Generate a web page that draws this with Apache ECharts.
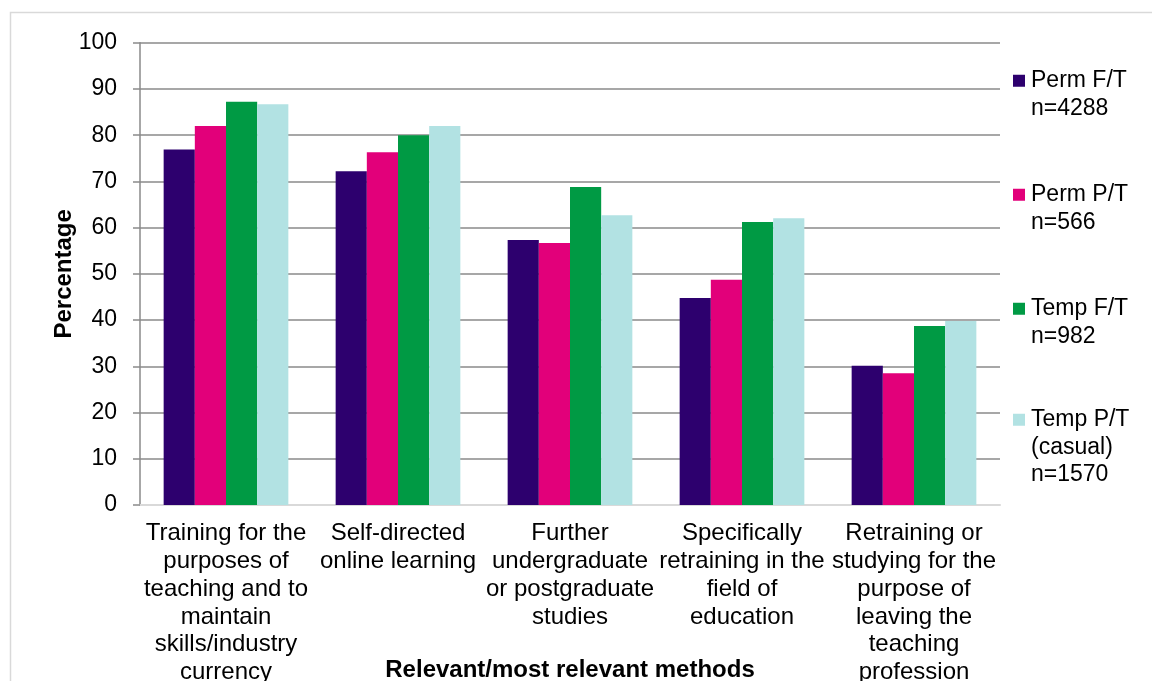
<!DOCTYPE html>
<html>
<head>
<meta charset="utf-8">
<script src="https://cdn.jsdelivr.net/npm/echarts@6/dist/echarts.min.js"></script>
<style>
  html, body { margin: 0; padding: 0; background: #fff; }
  #chart { width: 1152px; height: 681px; }
</style>
</head>
<body>
<div id="chart"></div>
<script>
// Relevant / most relevant professional development methods, by employment type
const categories = [
  'Training for the\npurposes of\nteaching and to\nmaintain\nskills/industry\ncurrency',
  'Self-directed\nonline learning',
  'Further\nundergraduate\nor postgraduate\nstudies',
  'Specifically\nretraining in the\nfield of\neducation',
  'Retraining or\nstudying for the\npurpose of\nleaving the\nteaching\nprofession'
];

const seriesNames = [
  'Perm F/T\nn=4288',
  'Perm P/T\nn=566',
  'Temp F/T\nn=982',
  'Temp P/T\n(casual)\nn=1570'
];

const permFT = [76.9, 72.2, 57.3, 44.8, 30.1];
const permPT = [82.0, 76.3, 56.7, 48.7, 28.5];
const tempFT = [87.2, 80.0, 68.8, 61.2, 38.7];
const tempPT = [86.7, 82.0, 62.7, 62.0, 39.8];

const seriesValues = [permFT, permPT, tempFT, tempPT];
const seriesColors = ['#2d006e', '#e2007a', '#009a44', '#b2e2e3'];

const yTicks = { min: 0, max: 100, interval: 10 };

const FONT = "'Liberation Sans', Arial, sans-serif";
const AXIS_GREY = '#8a8a8a';

// One legend per entry so every swatch sits beside the first line of its label
const legendTops = [39.5, 153.5, 267.5, 351];
const legends = seriesNames.map((name, i) => {
  const lines = name.split('\n').length;
  return {
    data: [name],
    orient: 'vertical',
    left: 1013,
    top: legendTops[i],
    padding: 0,
    itemWidth: 12,
    itemHeight: 12,
    itemGap: 0,
    icon: 'rect',
    selectedMode: false,
    formatter: n => '\n'.repeat(lines - 1) + n,
    textStyle: {
      fontFamily: FONT,
      fontSize: 23,
      lineHeight: 27.5,
      color: '#000',
      padding: [0, 0, 0, 1]
    }
  };
});

const chart = echarts.init(document.getElementById('chart'), null, { renderer: 'canvas' });

chart.setOption({
  animation: false,
  backgroundColor: '#fff',
  textStyle: { fontFamily: FONT },
  graphic: [{
    type: 'rect',
    shape: { x: 10.5, y: 12.5, width: 1400, height: 1000 },
    style: { fill: 'none', stroke: '#d9d9d9', lineWidth: 1.5 },
    silent: true,
    z: -10
  }],
  grid: { left: 140, right: 152, top: 42.7, bottom: 176, outerBoundsMode: 'none', containLabel: false },
  legend: legends,
  xAxis: {
    type: 'category',
    data: categories,
    name: 'Relevant/most relevant methods',
    nameLocation: 'middle',
    nameGap: 153,
    nameMoveOverlap: false,
    nameTextStyle: { fontFamily: FONT, fontSize: 24, fontWeight: 'bold', color: '#000' },
    axisLine: { show: true, lineStyle: { color: '#d9d9d9', width: 2 } },
    axisTick: { show: false },
    axisLabel: {
      interval: 0,
      margin: 15,
      fontFamily: FONT,
      fontSize: 24,
      lineHeight: 27.7,
      color: '#000',
      align: 'center'
    },
    splitLine: { show: false }
  },
  yAxis: {
    type: 'value',
    min: yTicks.min,
    max: yTicks.max,
    interval: yTicks.interval,
    name: 'Percentage',
    nameLocation: 'middle',
    nameGap: 64,
    nameMoveOverlap: false,
    nameTextStyle: { fontFamily: FONT, fontSize: 24, fontWeight: 'bold', color: '#000' },
    axisLine: { show: true, lineStyle: { color: AXIS_GREY, width: 1.5 } },
    axisTick: { show: true, length: 7, lineStyle: { color: AXIS_GREY, width: 1.5 } },
    axisLabel: { margin: 23, fontFamily: FONT, fontSize: 23, color: '#000' },
    splitLine: { show: true, lineStyle: { color: AXIS_GREY, width: 1.5 } }
  },
  series: seriesNames.map((name, i) => ({
    name: name,
    type: 'bar',
    data: seriesValues[i],
    barGap: '0%',
    barCategoryGap: '27.5%',
    itemStyle: { color: seriesColors[i] }
  }))
});
</script>
</body>
</html>
